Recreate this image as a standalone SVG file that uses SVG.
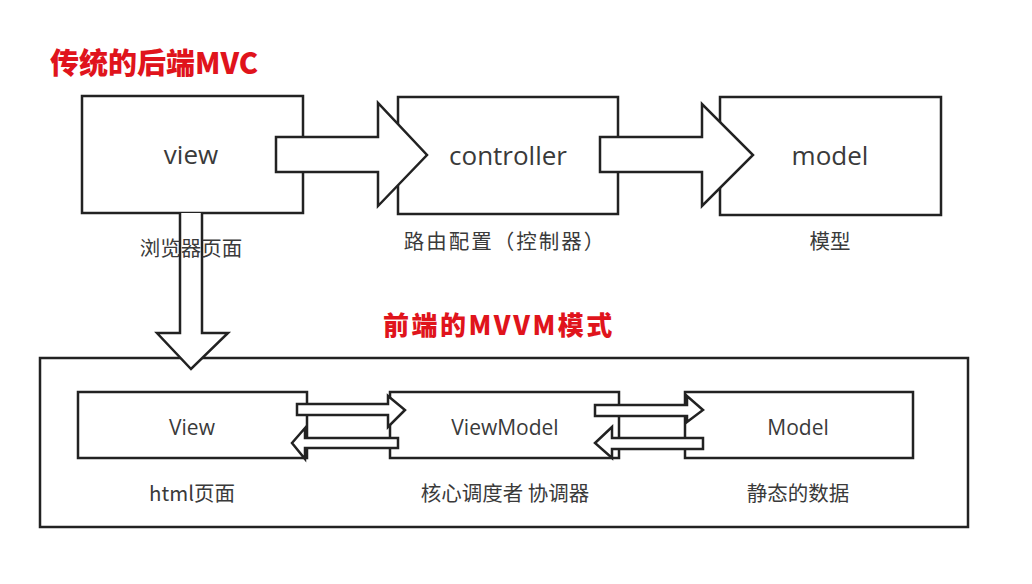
<svg xmlns="http://www.w3.org/2000/svg" width="1032" height="584" viewBox="0 0 1032 584">
<style>
.box{fill:#fff;stroke:#222;stroke-width:2.5}
.arr{fill:#fff;stroke:#222;stroke-width:2.5;stroke-linejoin:miter}
.lat{font-family:"Open Sans","Noto Sans","Noto Sans CJK SC",sans-serif;fill:#3a3a3a;text-anchor:middle}
.cjk{font-family:"Noto Sans CJK SC","Noto Sans",sans-serif;fill:#3a3a3a;text-anchor:middle;font-size:20.5px}
.title{font-family:"Noto Sans CJK SC","Noto Sans",sans-serif;fill:#e0141c;font-weight:900}
</style>
<rect width="1032" height="584" fill="#fff"/>
<text class="title" x="50" y="74" font-size="29">传统的后端MVC</text>
<g id="view"><rect class="box" x="82" y="96" width="221" height="117"/><text class="lat" x="191" y="164" font-size="26">view</text></g>
<g id="controller"><rect class="box" x="398" y="97" width="220" height="117"/><text class="lat" x="508" y="165" font-size="26">controller</text></g>
<g id="model"><rect class="box" x="720" y="97" width="221" height="118"/><text class="lat" x="830" y="165" font-size="26">model</text></g>
<g id="mvvm"><rect class="box" x="40" y="358" width="928" height="169"/></g>
<g id="View2"><rect class="box" x="78" y="392" width="229" height="66"/><text class="lat" x="192" y="435" font-size="21">View</text></g>
<g id="ViewModel"><rect class="box" x="390" y="392" width="229" height="66"/><text class="lat" x="505" y="435" font-size="21">ViewModel</text></g>
<g id="Model2"><rect class="box" x="685" y="392" width="228" height="66"/><text class="lat" x="798" y="435" font-size="21">Model</text></g>
<g id="connectors">
<path class="arr" d="M276,137 H378 V103 L427,155 L378,206 V172 H276 Z"/>
<path class="arr" d="M600,137 H702 V104 L753,155 L702,206 V172 H600 Z"/>
<path class="arr" d="M180,213 V333 H157 L191,369 L228,333 H202 V213"/>
<path class="arr" d="M297,404 H388 V396 L405,410 L388,427 V415 H297 Z"/>
<path class="arr" d="M398,438 V448 H305 V459 L292,443 L305,428 V438 Z"/>
<path class="arr" d="M595,405 H687 V396 L703,410 L687,422 V416 H595 Z"/>
<path class="arr" d="M703,438 V449 H612 V458 L595,443 L612,427 V438 Z"/>
</g>
<text class="cjk" x="191" y="256">浏览器页面</text>
<text class="cjk" x="505" y="249" letter-spacing="2">路由配置（控制器）</text>
<text class="cjk" x="830" y="249">模型</text>
<text class="title" x="383" y="335" font-size="26" letter-spacing="2.5">前端的MVVM模式</text>
<text class="cjk" x="192" y="501">html页面</text>
<text class="cjk" x="505" y="501">核心调度者 协调器</text>
<text class="cjk" x="798" y="501">静态的数据</text>
</svg>
